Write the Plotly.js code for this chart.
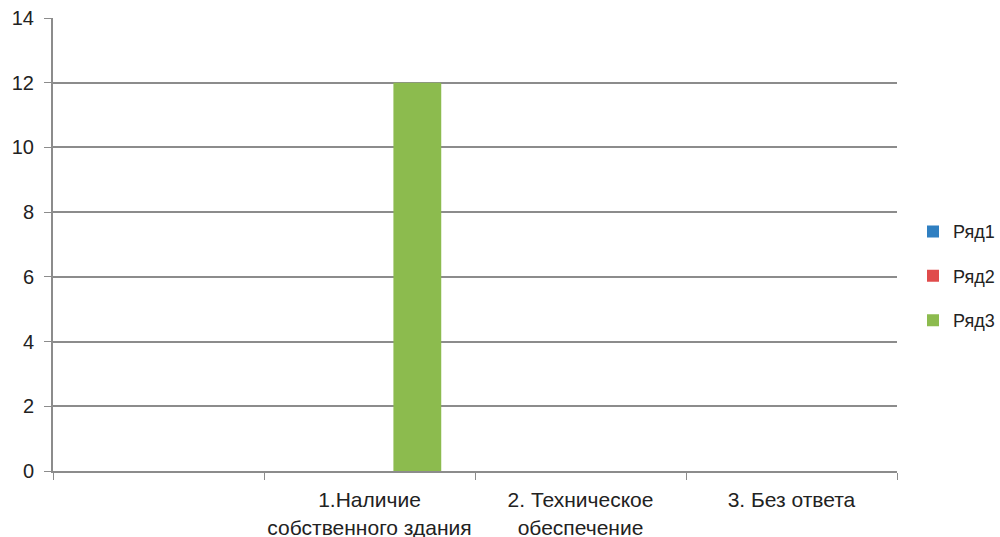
<!DOCTYPE html>
<html><head><meta charset="utf-8">
<script src="https://cdn.plot.ly/plotly-3.0.1.min.js"></script>
<style>html,body{margin:0;padding:0;background:#fff;}#chart{width:1000px;height:537px;}</style>
</head><body><div id="chart"></div>
<script>
const categories = [" ", "1.Наличие<br>собственного здания", "2. Техническое<br>обеспечение", "3. Без ответа"];
const seriesNames = ["Ряд1", "Ряд2", "Ряд3"];
const ryad1 = [0, 0, 0, 0];
const ryad2 = [0, 0, 0, 0];
const ryad3 = [0, 12, 0, 0];
const colors = ["#2f7fc1", "#e04b4b", "#8cbb4e"];
const yTicks = [0, 2, 4, 6, 8, 10, 12, 14];

const series = [ryad1, ryad2, ryad3];
const traces = series.map((vals, i) => ({
  type: "bar", x: categories, y: vals, name: seriesNames[i],
  marker: {color: colors[i]}, legendgroup: "g" + i
}));

const font = {family: "Liberation Sans, Arial, sans-serif", size: 18, color: "#222"};
const layout = {
  width: 1000, height: 537,
  margin: {l: 53, r: 103, t: 18, b: 66},
  paper_bgcolor: "#fff", plot_bgcolor: "#fff",
  font: font,
  barmode: "group", bargap: 0.32, bargroupgap: 0,
  showlegend: true,
  legend: {xref: "container", x: 0.913, xanchor: "left", y: 0.43, yanchor: "middle",
           font: {family: font.family, size: 18, color: "#222"},
           itemwidth: 30,
           tracegroupgap: 18, traceorder: "grouped", bgcolor: "rgba(0,0,0,0)"},
  xaxis: {type: "category", tickson: "boundaries", ticks: "outside", ticklen: 7,
          tickcolor: "#8c8c8c", showline: true, linecolor: "#8c8c8c", linewidth: 2,
          showgrid: false, zeroline: false, ticklabelstandoff: 9, tickangle: 0,
          tickfont: {size: 21, color: "#222"}, fixedrange: true},
  yaxis: {range: [0, 14], tickvals: yTicks, ticks: "outside", ticklen: 7, tickcolor: "#8c8c8c",
          showline: true, linecolor: "#8c8c8c", linewidth: 2, ticklabelstandoff: 6,
          showgrid: true, gridcolor: "#8c8c8c", gridwidth: 2, zeroline: false,
          tickfont: {size: 20, color: "#222"}, fixedrange: true}
};
Plotly.newPlot("chart", traces, layout, {displayModeBar: false, staticPlot: true});
</script></body></html>
